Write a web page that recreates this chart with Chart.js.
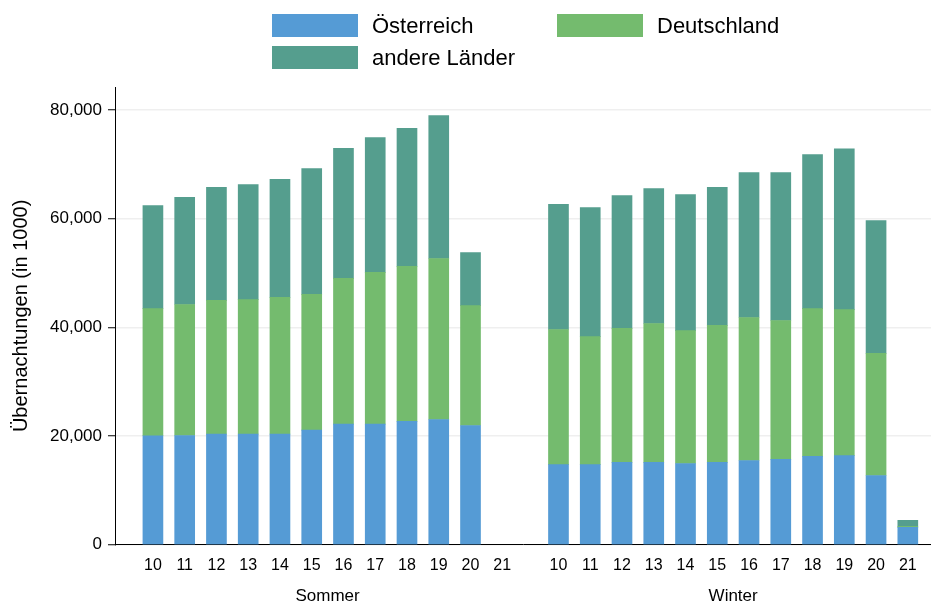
<!DOCTYPE html>
<html lang="de">
<head>
    <meta charset="UTF-8">
    <title>Übernachtungen Sommer / Winter</title>
    <script src="https://cdn.jsdelivr.net/npm/chart.js"></script>
    <style>
        body { margin: 0; background: #fff; font-family: "Liberation Sans", Arial, sans-serif; }
        #wrap { position: relative; width: 931px; height: 604px; }
        #legend { position: absolute; left: 0; top: 0; }
        .item { position: absolute; display: flex; align-items: center; font-size: 22px; line-height: 23px; color: #000; white-space: nowrap; }
        .item span.box { display: inline-block; width: 86px; height: 23px; margin-right: 14px; }
    </style>
</head>
<body>
<div id="wrap">
    <canvas id="chart" width="931" height="604"></canvas>
    <div id="legend"></div>
</div>
<script>
    // Saisonjahre (Kalenderjahre 2010..2021)
    var years = ['10', '11', '12', '13', '14', '15', '16', '17', '18', '19', '20', '21'];
    var seasons = ['Sommer', 'Winter'];
    var seriesNames = ['Österreich', 'Deutschland', 'andere Länder'];
    var yTicks = [0, 20000, 40000, 60000, 80000];

    // Übernachtungen in 1000
    var sommerAT = [20050, 20100, 20350, 20350, 20350, 21100, 22200, 22200, 22700, 23050, 21950, null];
    var sommerDE = [23400, 24100, 24600, 24750, 25150, 24950, 26800, 27900, 28500, 29600, 22050, null];
    var sommerOther = [18950, 19700, 20800, 21150, 21700, 23150, 23900, 24800, 25400, 26300, 9750, null];
    var winterAT = [14750, 14750, 15150, 15150, 14950, 15150, 15500, 15700, 16250, 16400, 12750, 3200];
    var winterDE = [24850, 23550, 24650, 25550, 24450, 25200, 26300, 25550, 27200, 26850, 22450, 200];
    var winterOther = [23000, 23700, 24450, 24800, 25000, 25400, 26650, 27200, 28300, 29600, 24450, 1100];

    var colors = ['#559bd5', '#74bb6e', '#559e8e'];

    // x positions: Sommer at 0..11, Winter after a gap
    var winterStart = 12.77;
    var xPos = [];
    years.forEach(function (y, i) { xPos.push(i); });
    years.forEach(function (y, i) { xPos.push(winterStart + i); });
    var tickLabels = years.concat(years);

    function points(sommer, winter) {
        var out = [];
        sommer.concat(winter).forEach(function (v, i) {
            if (v !== null) out.push({ x: xPos[i], y: v });
        });
        return out;
    }

    var seriesData = [
        points(sommerAT, winterAT),
        points(sommerDE, winterDE),
        points(sommerOther, winterOther)
    ];

    var groupTitles = {
        id: 'groupTitles',
        afterDraw: function (chart) {
            var ctx = chart.ctx;
            var xs = chart.scales.x;
            ctx.save();
            ctx.font = '17px "Liberation Sans", Arial, sans-serif';
            ctx.fillStyle = '#000';
            ctx.textAlign = 'center';
            ctx.textBaseline = 'middle';
            seasons.forEach(function (s, k) {
                var a = xs.getPixelForValue(xPos[k * 12]);
                var b = xs.getPixelForValue(xPos[k * 12 + 11]);
                ctx.fillText(s, (a + b) / 2, 596);
            });
            ctx.restore();
        }
    };

    Chart.defaults.font.family = '"Liberation Sans", Arial, sans-serif';
    Chart.defaults.color = '#000';

    var chart = new Chart(document.getElementById('chart').getContext('2d'), {
        type: 'bar',
        data: {
            datasets: seriesNames.map(function (name, i) {
                return {
                    label: name,
                    data: seriesData[i],
                    backgroundColor: colors[i],
                    barThickness: 20
                };
            })
        },
        options: {
            responsive: false,
            animation: false,
            layout: { padding: { top: 87, bottom: 18, left: 9, right: 0 } },
            plugins: { legend: { display: false }, tooltip: { enabled: false } },
            scales: {
                x: {
                    type: 'linear',
                    stacked: true,
                    offset: false,
                    min: -1.163,
                    max: 24.5,
                    grid: { display: false, drawTicks: false, offset: false },
                    border: { display: true, color: '#000', width: 1 },
                    afterBuildTicks: function (scale) {
                        scale.ticks = xPos.map(function (v) { return { value: v }; });
                    },
                    ticks: {
                        autoSkip: false,
                        maxRotation: 0,
                        padding: 11,
                        font: { size: 16 },
                        callback: function (v, i) { return tickLabels[i]; }
                    }
                },
                y: {
                    stacked: true,
                    min: 0,
                    max: 84200,
                    afterBuildTicks: function (scale) {
                        scale.ticks = yTicks.map(function (v) { return { value: v }; });
                    },
                    ticks: {
                        includeBounds: false,
                        padding: 6,
                        font: { size: 17 },
                        callback: function (v) { return v.toLocaleString('en-US'); }
                    },
                    grid: { color: '#efefef', lineWidth: 1.5, tickLength: 8, tickColor: '#000', tickWidth: 1 },
                    border: { display: true, color: '#000', width: 1 },
                    title: { display: true, text: 'Übernachtungen (in 1000)', font: { size: 20 }, padding: { top: 0, bottom: 11 } }
                }
            }
        },
        plugins: [groupTitles]
    });

    // legend in two columns
    var legendPos = [[272, 14], [557, 14], [272, 46]];
    var legend = document.getElementById('legend');
    seriesNames.forEach(function (name, i) {
        var el = document.createElement('div');
        el.className = 'item';
        el.style.left = legendPos[i][0] + 'px';
        el.style.top = legendPos[i][1] + 'px';
        el.innerHTML = '<span class="box" style="background:' + colors[i] + '"></span>' + name;
        legend.appendChild(el);
    });
</script>
</body>
</html>
